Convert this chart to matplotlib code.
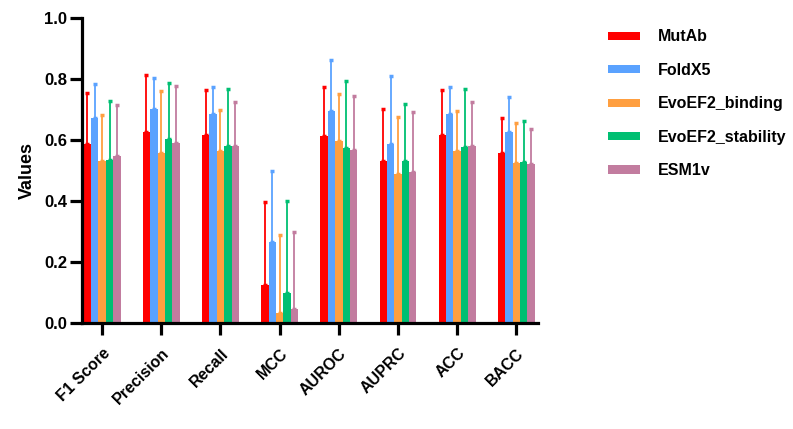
import numpy as np
import matplotlib
matplotlib.use("Agg")
import matplotlib.pyplot as plt
from matplotlib.patches import Patch

plt.rcParams['font.family'] = ['Liberation Sans', 'DejaVu Sans']
plt.rcParams['font.weight'] = 'bold'

# data
metrics = ["F1 Score", "Precision", "Recall", "MCC", "AUROC", "AUPRC", "ACC", "BACC"]
methods = ["MutAb", "FoldX5", "EvoEF2_binding", "EvoEF2_stability", "ESM1v"]
colors = ["#FF0000", "#5AA2FF", "#FF9F40", "#00BF72", "#C27C9F"]

mutab = [0.588, 0.627, 0.617, 0.124, 0.612, 0.530, 0.617, 0.558]
foldx = [0.673, 0.702, 0.685, 0.265, 0.695, 0.587, 0.685, 0.627]
evo_bind = [0.530, 0.559, 0.564, 0.031, 0.597, 0.490, 0.563, 0.525]
evo_stab = [0.535, 0.605, 0.579, 0.097, 0.575, 0.530, 0.578, 0.528]
esm1v = [0.549, 0.590, 0.581, 0.044, 0.569, 0.495, 0.580, 0.520]

# top of the error bars
mutab_hi = [0.754, 0.813, 0.763, 0.396, 0.774, 0.703, 0.764, 0.671]
foldx_hi = [0.783, 0.804, 0.775, 0.498, 0.863, 0.812, 0.775, 0.741]
evo_bind_hi = [0.682, 0.760, 0.698, 0.287, 0.751, 0.675, 0.697, 0.655]
evo_stab_hi = [0.729, 0.788, 0.768, 0.400, 0.795, 0.717, 0.768, 0.663]
esm1v_hi = [0.716, 0.776, 0.725, 0.299, 0.745, 0.692, 0.725, 0.636]

vals = [mutab, foldx, evo_bind, evo_stab, esm1v]
his = [mutab_hi, foldx_hi, evo_bind_hi, evo_stab_hi, esm1v_hi]

fig = plt.figure(figsize=(7.93, 4.29), dpi=100)
ax = fig.add_axes([0.1034, 0.2478, 0.5746, 0.7095])

x = np.arange(len(metrics))
w = 0.125
for i in range(5):
    v = np.array(vals[i])
    err = np.array(his[i]) - v
    pos = x + (i - 2) * w
    ax.bar(pos, v, width=w, color=colors[i], edgecolor='none', zorder=2)
    ax.errorbar(pos, v, yerr=[np.zeros_like(err), err], fmt='none',
                ecolor=colors[i], elinewidth=1.3, capsize=1.6, capthick=2.5, zorder=1)

ax.set_ylim(0, 1.0)
ax.set_xlim(-0.34, 7.36)
ax.set_yticks([0.0, 0.2, 0.4, 0.6, 0.8, 1.0])
ax.set_yticklabels(["0.0", "0.2", "0.4", "0.6", "0.8", "1.0"], fontsize=12, fontweight='bold')
ax.set_xticks(x)
ax.set_xticklabels(metrics, rotation=45, ha='right', rotation_mode='anchor',
                   fontsize=11.5, fontweight='bold')
ax.set_ylabel("Values", fontsize=13, fontweight='bold', labelpad=6)

for s in ['top', 'right']:
    ax.spines[s].set_visible(False)
for s in ['left', 'bottom']:
    ax.spines[s].set_linewidth(2.3)
ax.tick_params(axis='both', width=2.3, length=8.5, direction='out')
ax.tick_params(axis='x', pad=8)
ax.tick_params(axis='y', pad=2)

handles = [Patch(facecolor=c, edgecolor='none') for c in colors]
fig.legend(handles, methods, loc='upper left', bbox_to_anchor=(0.748, 0.965),
           frameon=False, handlelength=2.06, handleheight=0.4,
           labelspacing=1.155, handletextpad=1.1, prop={'weight': 'bold', 'size': 11.5})

fig.savefig("out.png", dpi=100)
